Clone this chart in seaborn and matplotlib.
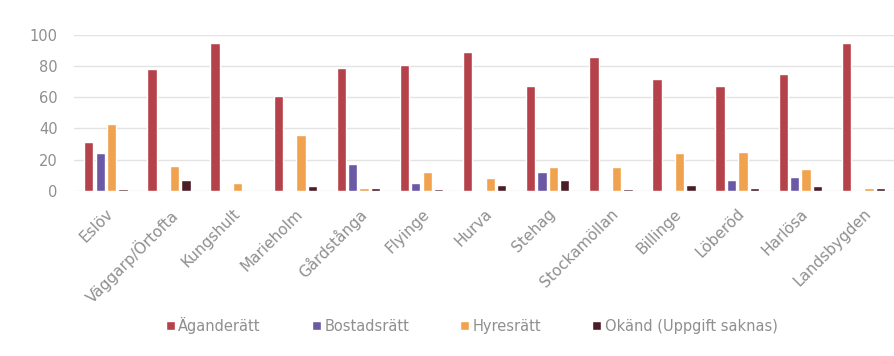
import matplotlib
matplotlib.use("Agg")
import matplotlib.pyplot as plt
import seaborn as sns
import pandas as pd

# Upplåtelseform per ort (procent)
orter = ["Eslöv", "Väggarp/Örtofta", "Kungshult", "Marieholm", "Gårdstånga",
         "Flyinge", "Hurva", "Stehag", "Stockamöllan", "Billinge", "Löberöd",
         "Harlösa", "Landsbygden"]
serier = ["Äganderätt", "Bostadsrätt", "Hyresrätt", "Okänd (Uppgift saknas)"]

aganderatt = [31, 78, 95, 61, 79, 81, 89, 67, 86, 72, 67, 75, 95]
bostadsratt = [24, 0, 0, 0, 17, 5, 0, 12, 0, 0, 7, 9, 0]
hyresratt = [43, 16, 5, 36, 2, 12, 8, 15, 15, 24, 25, 14, 2]
okand = [1, 7, 0, 3, 2, 1, 4, 7, 1, 4, 1.5, 3, 2]

farger = ["#b5424a", "#6b59a6", "#f0a24e", "#4b1d27"]
textfarg = "#8f8f8f"

rows = []
for serie, vals in zip(serier, [aganderatt, bostadsratt, hyresratt, okand]):
    for ort, v in zip(orter, vals):
        rows.append({"Ort": ort, "Upplåtelseform": serie, "Andel": v})
df = pd.DataFrame(rows)

sns.set_theme(style="white")
plt.rcParams["font.family"] = ["DejaVu Sans"]

fig = plt.figure(figsize=(8.95, 3.56), dpi=100)
ax = fig.add_axes([0.083, 0.464, 0.917, 0.438])

sns.barplot(data=df, x="Ort", y="Andel", hue="Upplåtelseform",
            hue_order=serier, order=orter, palette=farger,
            width=0.72, gap=0.18, saturation=1, ax=ax, legend=True)

ax.set_ylim(0, 100)
ax.set_xlim(-0.5, len(orter) - 0.5)
ax.set_yticks([0, 20, 40, 60, 80, 100])
ax.yaxis.grid(True, color="#e3e3e3", linewidth=1)
ax.set_axisbelow(True)
for s in ax.spines.values():
    s.set_visible(False)
ax.tick_params(axis="both", length=0, colors=textfarg, labelsize=10.5)
ax.tick_params(axis="y", pad=12)
ax.tick_params(axis="x", pad=11, labelsize=11)
ax.set_xlabel("")
ax.set_ylabel("")
plt.setp(ax.get_xticklabels(), rotation=45, ha="right", rotation_mode="anchor")

handles, labels = ax.get_legend_handles_labels()
ax.get_legend().remove()
fig.legend(handles, labels, loc="center", bbox_to_anchor=(0.527, 0.087),
           ncol=4, frameon=False, fontsize=10.5, handlelength=0.6,
           handleheight=0.6, handletextpad=0.25, columnspacing=3.5,
           labelcolor=textfarg)

fig.savefig("out.png", dpi=100)
